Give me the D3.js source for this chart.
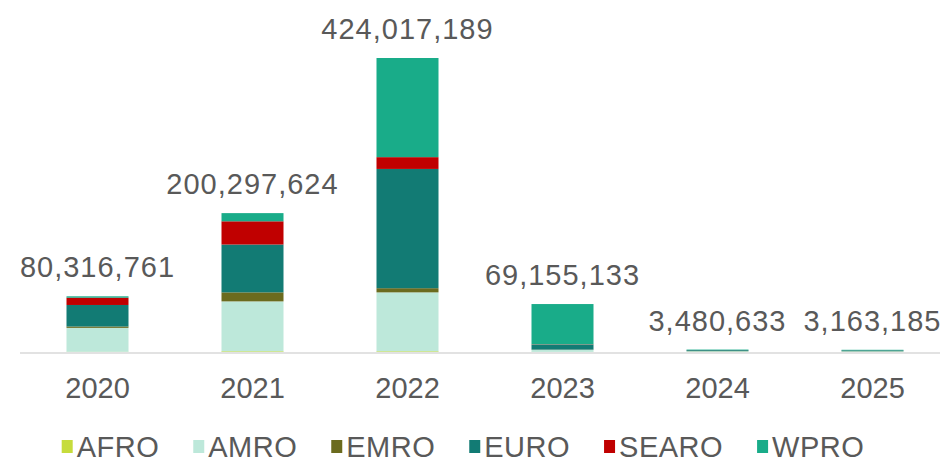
<!DOCTYPE html>
<html>
<head>
<meta charset="utf-8">
<script src="https://cdn.jsdelivr.net/npm/d3@7"></script>
<style>
  html, body { margin: 0; padding: 0; background: #ffffff; }
  svg { display: block; }
  text { font-family: "Liberation Sans", Arial, sans-serif; fill: #595959; }
</style>
</head>
<body>
<svg id="chart" width="947" height="464"></svg>
<script>
// ---- data ----
const years = ["2020", "2021", "2022", "2023", "2024", "2025"];
const regions = ["AFRO", "AMRO", "EMRO", "EURO", "SEARO", "WPRO"];
const AFRO  = [300000,   1000000,   1000000,   155133,   0,       0];
const AMRO  = [34500000, 72000000,  85000000,  3000000,  1200000, 1000000];
const EMRO  = [2000000,  13000000,  6017189,   300000,   200000,  200000];
const EURO  = [31016761, 69000000,  172000000, 7000000,  1200000, 1200000];
const SEARO = [10500000, 33497624,  17000000,  500000,   80633,   63185];
const WPRO  = [2000000,  11800000,  143000000, 58200000, 800000,  700000];
const totals = [80316761, 200297624, 424017189, 69155133, 3480633, 3163185];
const colors = ["#c6dc3c", "#bde8da", "#6b6b1e", "#127b74", "#c00000", "#19ac89"];

const seriesValues = { AFRO, AMRO, EMRO, EURO, SEARO, WPRO };

// ---- layout ----
const svg = d3.select("#chart");
const baseY = 352;
const x = d3.scaleBand().domain(years).range([20, 950]).paddingInner(0.6).paddingOuter(0.3);
const y = d3.scaleLinear().domain([0, d3.max(totals)]).range([baseY, 58]);
const color = d3.scaleOrdinal().domain(regions).range(colors);

const table = years.map((yr, i) => {
  const row = { year: yr };
  regions.forEach(r => row[r] = seriesValues[r][i]);
  return row;
});
const stacked = d3.stack().keys(regions)(table);

// bars
svg.append("g").selectAll("g")
  .data(stacked).join("g")
  .attr("fill", d => color(d.key))
  .selectAll("rect")
  .data(d => d).join("rect")
  .attr("x", d => x(d.data.year))
  .attr("width", x.bandwidth())
  .attr("y", d => y(d[1]))
  .attr("height", d => Math.max(0, y(d[0]) - y(d[1])));

// axis line
svg.append("line")
  .attr("x1", 20).attr("x2", 940)
  .attr("y1", baseY + 1).attr("y2", baseY + 1)
  .attr("stroke", "#d9d9d9").attr("stroke-width", 1.5);

// x axis labels
const xAxis = d3.axisBottom(x).tickSize(0).tickPadding(0);
const gx = svg.append("g").attr("transform", `translate(0,${baseY})`).call(xAxis);
gx.select(".domain").remove();
gx.selectAll("text")
  .attr("dy", null).attr("y", 46)
  .style("font-size", "29px")
  .style("font-family", "'Liberation Sans', Arial, sans-serif")
  .attr("fill", "#595959");

// total labels
const fmt = d3.format(",");
svg.append("g").selectAll("text")
  .data(years).join("text")
  .attr("x", d => x(d) + x.bandwidth() / 2)
  .attr("y", (d, i) => y(totals[i]) - 19)
  .attr("text-anchor", "middle")
  .style("font-size", "29px")
  .style("letter-spacing", "1px")
  .text((d, i) => fmt(totals[i]));

// legend
const lg = svg.append("g");
let cx = 0;
const gap = 34;
regions.forEach(r => {
  const g = lg.append("g");
  g.append("rect").attr("x", 0).attr("y", -17).attr("width", 11).attr("height", 13).attr("fill", color(r));
  const t = g.append("text").attr("x", 15).attr("y", 0).style("font-size", "29px").style("letter-spacing", "0.5px").text(r);
  const w = 15 + t.node().getComputedTextLength();
  g.attr("transform", `translate(${cx},0)`);
  cx += w + gap;
});
const totalW = cx - gap;
lg.attr("transform", `translate(${463 - totalW / 2},457)`);
</script>
</body>
</html>
